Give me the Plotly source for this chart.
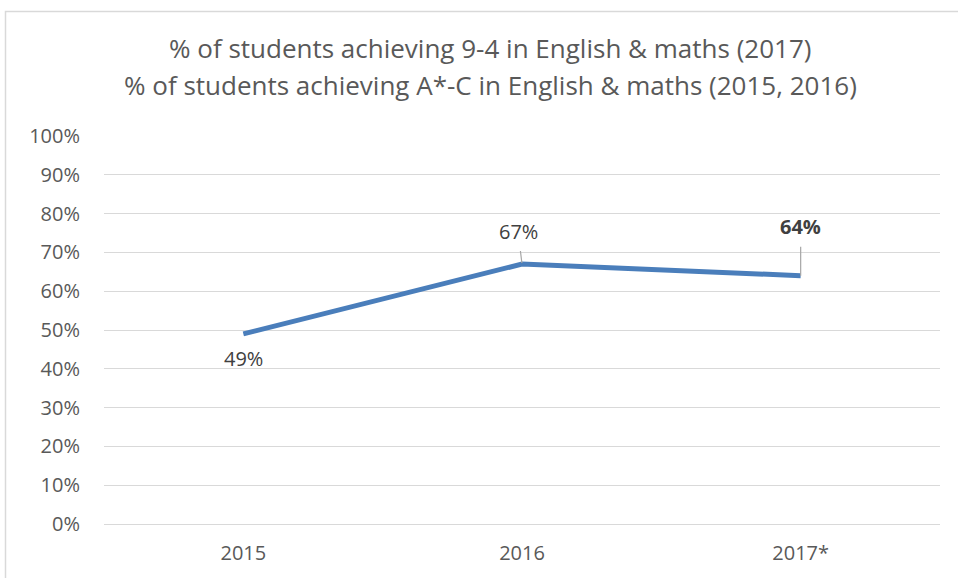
import plotly.graph_objects as go

years = ["2015", "2016", "2017*"]
values = [0.49, 0.67, 0.64]
labels = ["49%", "67%", "64%"]
title_lines = ["% of students achieving 9-4 in English & maths (2017)",
               "% of students achieving A*-C in English & maths (2015, 2016)"]

FONT = "'Open Sans', Lato, sans-serif"
GREY = "#595959"
GRID = "#d9d9d9"

T, B = 136, 527
PH = B - T

fig = go.Figure()
fig.add_trace(go.Scatter(x=years, y=values, mode="lines",
                         line=dict(color="#4a7ebb", width=5), hoverinfo="skip"))

idx = list(range(len(years)))
ann = []
# title lines
ann.append(dict(text=title_lines[0], xref="paper", yref="paper", x=(490-104)/836, y=(B-47)/PH,
                showarrow=False, xanchor="center", yanchor="middle",
                font=dict(family=FONT, size=26, color=GREY)))
ann.append(dict(text=title_lines[1], xref="paper", yref="paper", x=(490-104)/836, y=(B-85)/PH,
                showarrow=False, xanchor="center", yanchor="middle",
                font=dict(family=FONT, size=26, color=GREY)))
# data labels
ann.append(dict(x=idx[0], y=values[0], text=labels[0], showarrow=False, yshift=-25,
                font=dict(family=FONT, size=20, color="#404040")))
ann.append(dict(x=idx[1], y=values[1], text=labels[1], showarrow=True, arrowhead=0,
                arrowwidth=1.2, arrowcolor="#a6a6a6", ax=-4, ay=-33, standoff=1, startstandoff=5,
                font=dict(family=FONT, size=20, color="#404040")))
ann.append(dict(x=idx[2], y=values[2], text="<b>" + labels[2] + "</b>", showarrow=True, arrowhead=0,
                arrowwidth=1.2, arrowcolor="#a6a6a6", ax=0, ay=-49, standoff=0, startstandoff=5,
                font=dict(family=FONT, size=20, color="#404040")))

fig.update_layout(
    width=958, height=578,
    margin=dict(l=104, r=18, t=T, b=578 - B),
    paper_bgcolor="white", plot_bgcolor="white",
    showlegend=False,
    annotations=ann,
    font=dict(family=FONT, color=GREY),
    shapes=[dict(type="rect", xref="paper", yref="paper",
                 x0=(5.5-104)/836, x1=(975-104)/836, y0=(B-600)/PH, y1=(B-10.5)/PH,
                 line=dict(color=GRID, width=1.5), fillcolor="rgba(0,0,0,0)", layer="below")],
)
fig.update_xaxes(type="category", range=[-0.5, 2.5], showgrid=False, zeroline=False,
                 showline=False, ticks="", tickfont=dict(family=FONT, size=20, color=GREY),
                 ticklabelstandoff=15)
fig.update_yaxes(range=[0, 1], dtick=0.1, tickformat=".0%", showgrid=True, gridcolor=GRID,
                 gridwidth=1.3, zeroline=True, zerolinecolor=GRID, zerolinewidth=1.3,
                 showline=False, ticks="", tickfont=dict(family=FONT, size=20, color=GREY),
                 ticklabelstandoff=23)

fig.write_html("out.html", config={"displayModeBar": False},
               post_script="document.body.style.margin='0';")
